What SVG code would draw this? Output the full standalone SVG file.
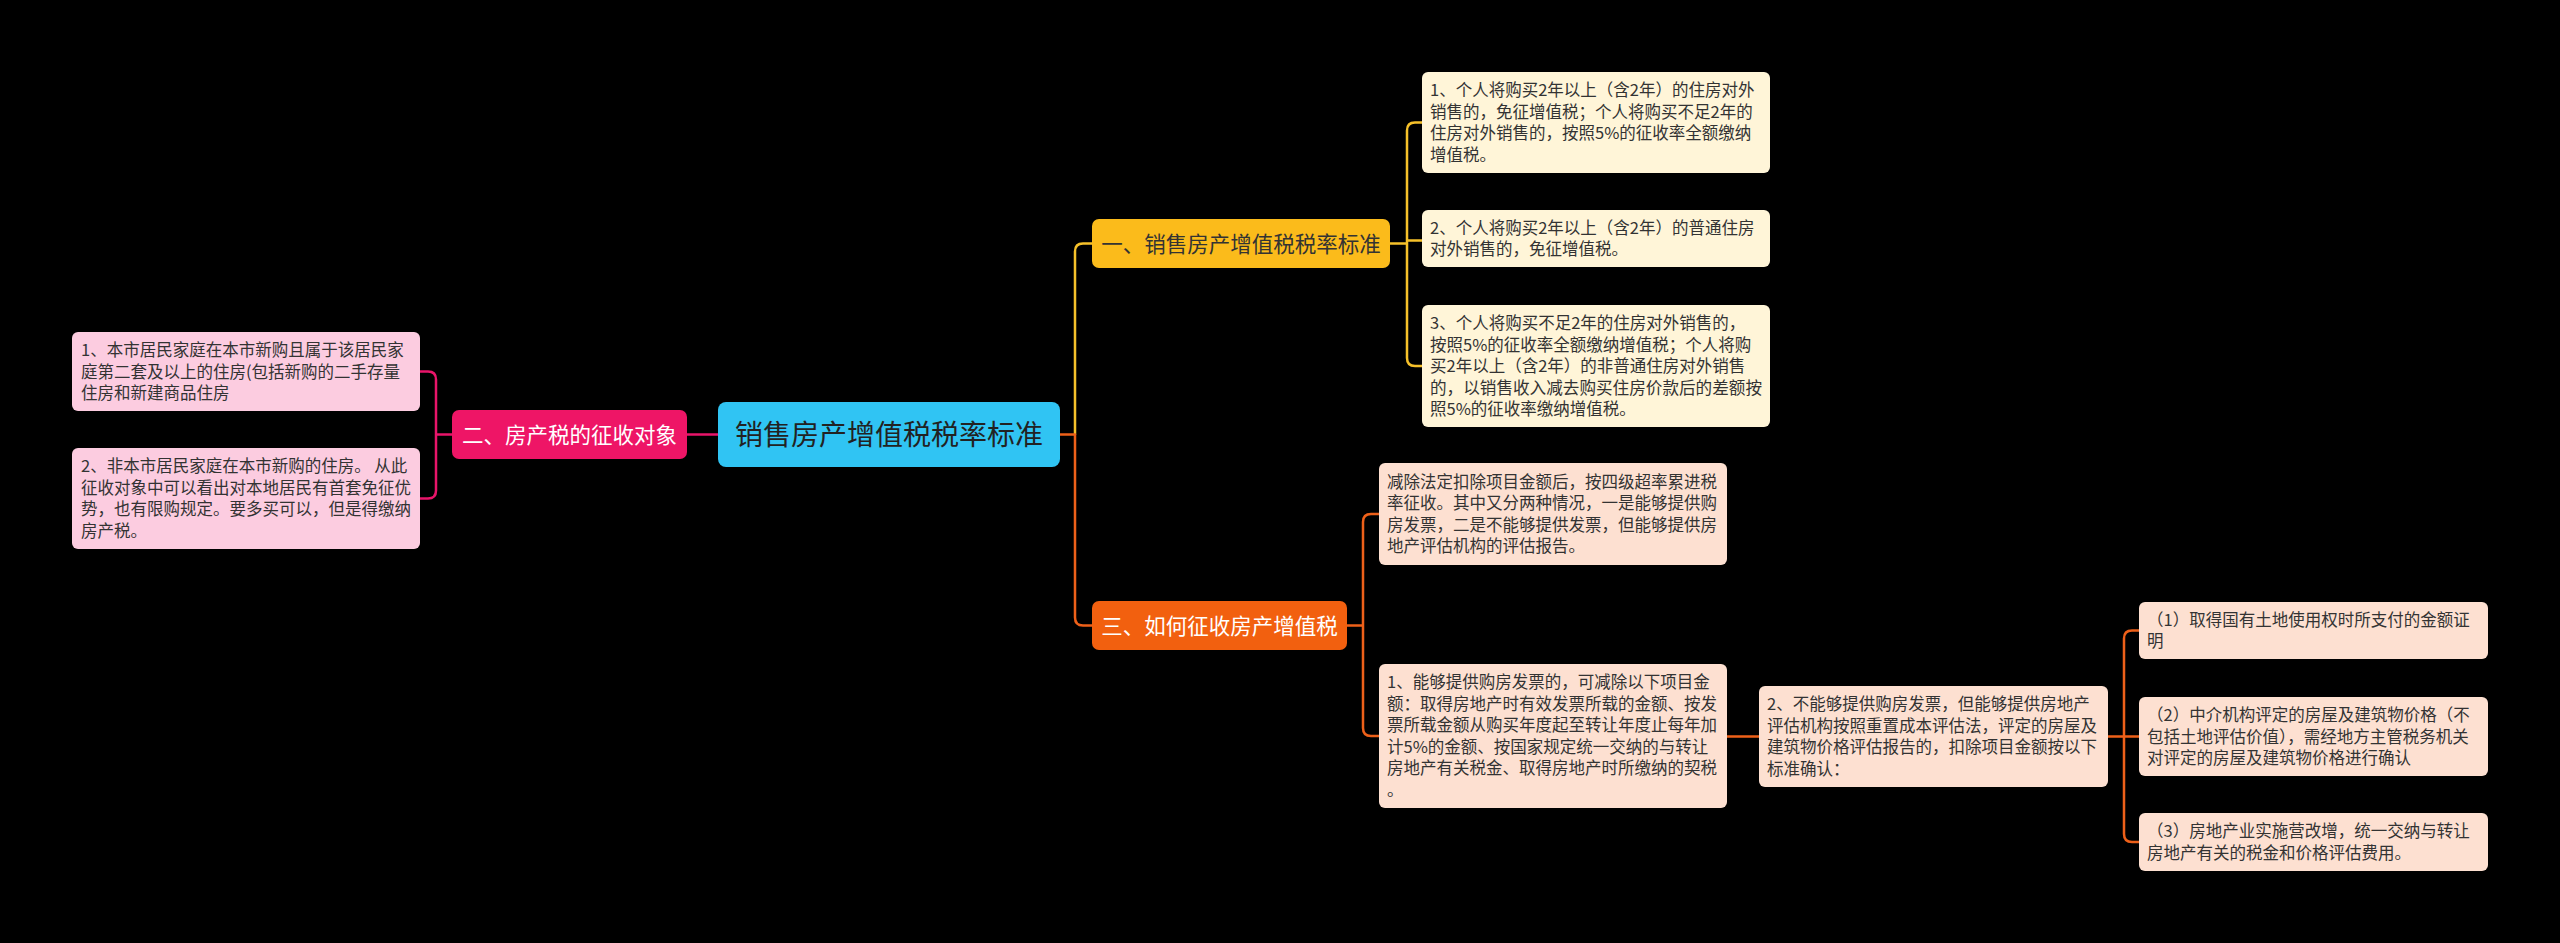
<svg xmlns="http://www.w3.org/2000/svg" width="2560" height="943" viewBox="0 0 2560 943">
<style>
.bg{fill:#000}
text{font-family:"Noto Sans CJK SC","Noto Sans",sans-serif}
.leaf{font-size:16.5px;fill:#333}
.main{font-size:21.5px;text-anchor:middle}
.rootT{font-size:28px;fill:#222;text-anchor:middle}
.c{fill:none;stroke-width:2.5;stroke-linecap:round;stroke-linejoin:round}
.cy{stroke:#F6C12A}.cp{stroke:#E8156A}.co{stroke:#EE6019}
</style>
<rect class="bg" x="0" y="0" width="2560" height="943"/>
<g id="connectors">
<path class="c cp" d="M718,434.5 H687"/>
<path class="c cp" d="M452,434.5 H436 M436,434.5 V379.5 Q436,371.5 428,371.5 H420 M436,434.5 V490.5 Q436,498.5 428,498.5 H420"/>
<path class="c cy" d="M1075,434.5 V251.5 Q1075,243.5 1083,243.5 H1092"/>
<path class="c co" d="M1060,434.5 H1075 M1075,434.5 V617.5 Q1075,625.5 1083,625.5 H1092"/>
<path class="c cy" d="M1390,243.5 H1407 M1407,243.5 V130.5 Q1407,122.5 1415,122.5 H1422 M1407,243.5 V240.5 H1422 M1407,243.5 V358 Q1407,366 1415,366 H1422"/>
<path class="c co" d="M1347,625.5 H1363 M1363,625.5 V522 Q1363,514 1371,514 H1379 M1363,625.5 V728 Q1363,736 1371,736 H1379"/>
<path class="c co" d="M1727,736.5 H1759"/>
<path class="c co" d="M2108,736.5 H2124 M2124,736.5 V638.5 Q2124,630.5 2132,630.5 H2139 M2124,736.5 H2139 M2124,736.5 V834 Q2124,842 2132,842 H2139"/>
</g>
<g id="root">
<rect x="718" y="402" width="342" height="65" rx="8" fill="#30C4F3"/>
<text class="rootT" x="889" y="445">销售房产增值税税率标准</text>
</g>
<g id="n1">
<rect x="1092" y="219" width="298" height="49" rx="7" fill="#FBBB1B"/>
<text class="main" x="1241" y="251.5" fill="#333">一、销售房产增值税税率标准</text>
</g>
<g id="n2">
<rect x="452" y="410" width="235" height="49" rx="7" fill="#EE1566"/>
<text class="main" x="569.5" y="442.5" fill="#fff">二、房产税的征收对象</text>
</g>
<g id="n3">
<rect x="1092" y="601" width="255" height="49" rx="7" fill="#F2600F"/>
<text class="main" x="1219.5" y="633.5" fill="#fff">三、如何征收房产增值税</text>
</g>
<g id="y1">
<rect x="1422" y="72" width="348" height="101" rx="6" fill="#FFF5D8"/>
<text class="leaf"><tspan x="1430" y="96.25">1、个人将购买2年以上（含2年）的住房对外</tspan><tspan x="1430" y="117.75">销售的，免征增值税；个人将购买不足2年的</tspan><tspan x="1430" y="139.25">住房对外销售的，按照5%的征收率全额缴纳</tspan><tspan x="1430" y="160.75">增值税。</tspan></text>
</g>
<g id="y2">
<rect x="1422" y="210" width="348" height="57" rx="6" fill="#FFF5D8"/>
<text class="leaf"><tspan x="1430" y="233.75">2、个人将购买2年以上（含2年）的普通住房</tspan><tspan x="1430" y="255.25">对外销售的，免征增值税。</tspan></text>
</g>
<g id="y3">
<rect x="1422" y="305" width="348" height="122" rx="6" fill="#FFF5D8"/>
<text class="leaf"><tspan x="1430" y="329">3、个人将购买不足2年的住房对外销售的，</tspan><tspan x="1430" y="350.5">按照5%的征收率全额缴纳增值税；个人将购</tspan><tspan x="1430" y="372">买2年以上（含2年）的非普通住房对外销售</tspan></text>
<text class="leaf" x="1430" y="393.5" textLength="332" lengthAdjust="spacingAndGlyphs">的，以销售收入减去购买住房价款后的差额按</text>
<text class="leaf" x="1430" y="415">照5%的征收率缴纳增值税。</text>
</g>
<g id="p1">
<rect x="72" y="332" width="348" height="79" rx="6" fill="#FCCCE0"/>
<text class="leaf"><tspan x="81" y="356">1、本市居民家庭在本市新购且属于该居民家</tspan><tspan x="81" y="377.5">庭第二套及以上的住房(包括新购的二手存量</tspan><tspan x="81" y="399">住房和新建商品住房</tspan></text>
</g>
<g id="p2">
<rect x="72" y="448" width="348" height="101" rx="6" fill="#FCCCE0"/>
<text class="leaf"><tspan x="81" y="472.25">2、非本市居民家庭在本市新购的住房。 从此</tspan><tspan x="81" y="493.75">征收对象中可以看出对本地居民有首套免征优</tspan><tspan x="81" y="515.25">势，也有限购规定。要多买可以，但是得缴纳</tspan><tspan x="81" y="536.75">房产税。</tspan></text>
</g>
<g id="o1">
<rect x="1379" y="463" width="348" height="102" rx="6" fill="#FDE0D1"/>
<text class="leaf"><tspan x="1387" y="487.75">减除法定扣除项目金额后，按四级超率累进税</tspan><tspan x="1387" y="509.25">率征收。其中又分两种情况，一是能够提供购</tspan><tspan x="1387" y="530.75">房发票，二是不能够提供发票，但能够提供房</tspan><tspan x="1387" y="552.25">地产评估机构的评估报告。</tspan></text>
</g>
<g id="o2">
<rect x="1379" y="664" width="348" height="144" rx="6" fill="#FDE0D1"/>
<text class="leaf"><tspan x="1387" y="688.25">1、能够提供购房发票的，可减除以下项目金</tspan><tspan x="1387" y="709.75">额：取得房地产时有效发票所载的金额、按发</tspan><tspan x="1387" y="731.25">票所载金额从购买年度起至转让年度止每年加</tspan><tspan x="1387" y="752.75">计5%的金额、按国家规定统一交纳的与转让</tspan><tspan x="1387" y="774.25">房地产有关税金、取得房地产时所缴纳的契税</tspan><tspan x="1387" y="795.75">。</tspan></text>
</g>
<g id="o3">
<rect x="1759" y="686" width="349" height="101" rx="6" fill="#FDE0D1"/>
<text class="leaf"><tspan x="1767" y="710.25">2、不能够提供购房发票，但能够提供房地产</tspan><tspan x="1767" y="731.75">评估机构按照重置成本评估法，评定的房屋及</tspan><tspan x="1767" y="753.25">建筑物价格评估报告的，扣除项目金额按以下</tspan><tspan x="1767" y="774.75">标准确认：</tspan></text>
</g>
<g id="o4">
<rect x="2139" y="602" width="349" height="57" rx="6" fill="#FDE0D1"/>
<text class="leaf"><tspan x="2147" y="625.75">（1）取得国有土地使用权时所支付的金额证</tspan><tspan x="2147" y="647.25">明</tspan></text>
</g>
<g id="o5">
<rect x="2139" y="697" width="349" height="79" rx="6" fill="#FDE0D1"/>
<text class="leaf"><tspan x="2147" y="721">（2）中介机构评定的房屋及建筑物价格（不</tspan><tspan x="2147" y="742.5">包括土地评估价值），需经地方主管税务机关</tspan><tspan x="2147" y="764">对评定的房屋及建筑物价格进行确认</tspan></text>
</g>
<g id="o6">
<rect x="2139" y="813" width="349" height="58" rx="6" fill="#FDE0D1"/>
<text class="leaf"><tspan x="2147" y="837.25">（3）房地产业实施营改增，统一交纳与转让</tspan><tspan x="2147" y="858.75">房地产有关的税金和价格评估费用。</tspan></text>
</g>
</svg>
